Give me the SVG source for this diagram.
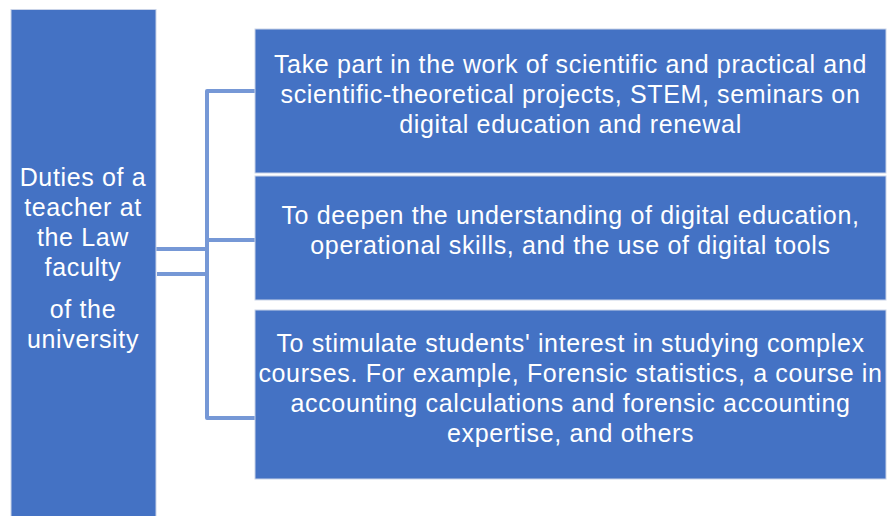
<svg xmlns="http://www.w3.org/2000/svg" width="887" height="516" viewBox="0 0 887 516">
<style>
.box{fill:#4472c4;stroke:#c9d3e8;stroke-width:1}
.t{font-family:"Liberation Sans","Arial",sans-serif;font-size:25px;letter-spacing:0.65px;fill:#ffffff;text-anchor:middle}
.c{fill:none;stroke:#7698d6;stroke-width:4;stroke-linejoin:round}
</style>
<rect width="887" height="516" fill="#ffffff"/>
<g id="connectors">
<path class="c" d="M255,91 H207 V418 H255"/>
<path class="c" d="M207,240 H255"/>
<path class="c" d="M156,249 H207"/>
<path class="c" d="M157,274 H207"/>
</g>
<g id="main">
<rect class="box" x="11" y="9.5" width="145" height="510"/>
<text class="t"><tspan x="83" y="186">Duties of a</tspan><tspan x="83" y="216">teacher at</tspan><tspan x="83" y="246">the Law</tspan><tspan x="83" y="276">faculty</tspan><tspan x="83" y="318">of the</tspan><tspan x="83" y="348">university</tspan></text>
</g>
<g id="n1">
<rect class="box" x="255" y="29" width="631" height="144"/>
<text class="t"><tspan x="570.5" y="73">Take part in the work of scientific and practical and</tspan><tspan x="570.5" y="103">scientific-theoretical projects, STEM, seminars on</tspan><tspan x="570.5" y="133">digital education and renewal</tspan></text>
</g>
<g id="n2">
<rect class="box" x="255" y="176" width="631" height="124"/>
<text class="t"><tspan x="570.5" y="224">To deepen the understanding of digital education,</tspan><tspan x="570.5" y="254">operational skills, and the use of digital tools</tspan></text>
</g>
<g id="n3">
<rect class="box" x="255" y="310" width="631" height="169"/>
<text class="t"><tspan x="570.5" y="352">To stimulate students' interest in studying complex</tspan><tspan x="570.5" y="382">courses. For example, Forensic statistics, a course in</tspan><tspan x="570.5" y="412">accounting calculations and forensic accounting</tspan><tspan x="570.5" y="442">expertise, and others</tspan></text>
</g>
</svg>
